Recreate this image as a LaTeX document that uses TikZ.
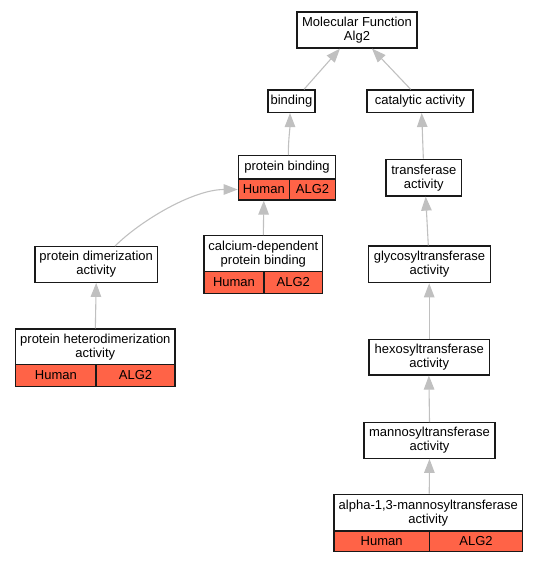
\documentclass[tikz,border=0pt]{standalone}
\usepackage{fontspec}
\setmainfont{Liberation Sans}
\usetikzlibrary{arrows.meta}
\definecolor{hit}{RGB}{255,99,71}
\definecolor{edgegray}{RGB}{192,192,192}
\begin{document}
\begin{tikzpicture}[x=1pt,y=-1pt,
  box/.style={draw=black!90, line width=1.2pt, fill=white, inner sep=0pt, align=center,
    font=\fontsize{13}{14}\selectfont},
  hitbox/.style={box, fill=hit},
  link/.style={draw=edgegray, line width=1.1pt, -{Triangle[length=14pt,width=10.5pt,fill=edgegray]}}]
\useasboundingbox (0,0) rectangle (537,563);
% nodes
\node[box, minimum width=120pt, minimum height=36pt] (mf) at (357,30) {Molecular Function\\Alg2};
\node[box, minimum width=47pt, minimum height=22.5pt] (binding) at (291.5,101.2) {binding};
\node[box, minimum width=106pt, minimum height=22.5pt] (cat) at (420,101.2) {catalytic activity};
% protein binding
\node[box, minimum width=97.4pt, minimum height=23.3pt] (pbt) at (287,167.35) {protein binding};
\node[hitbox, minimum width=51pt, minimum height=21pt] (pbh) at (263.8,189.5) {Human};
\node[hitbox, minimum width=46.4pt, minimum height=21pt] (pba) at (312.5,189.5) {ALG2};
% calcium-dependent
\node[box, minimum width=118.7pt, minimum height=36pt] (cat2) at (263.35,253.7) {calcium-dependent\\protein binding};
\node[hitbox, minimum width=60pt, minimum height=21.6pt] (cah) at (234,282.5) {Human};
\node[hitbox, minimum width=58.7pt, minimum height=21.6pt] (caa) at (293.35,282.5) {ALG2};
% dimerization
\node[box, minimum width=122.3pt, minimum height=35.6pt] (dim) at (96.2,264.5) {protein dimerization\\activity};
% heterodimerization
\node[box, minimum width=159.3pt, minimum height=35.3pt] (het) at (95.35,346.65) {protein heterodimerization\\activity};
\node[hitbox, minimum width=80.3pt, minimum height=22.4pt] (heth) at (55.85,375.5) {Human};
\node[hitbox, minimum width=79pt, minimum height=22.4pt] (heta) at (135.5,375.5) {ALG2};
% right column
\node[box, minimum width=75.7pt, minimum height=36.7pt] (tr) at (423.85,177.65) {transferase\\activity};
\node[box, minimum width=122.4pt, minimum height=36.7pt] (gly) at (429.5,264.35) {glycosyltransferase\\activity};
\node[box, minimum width=120.3pt, minimum height=35.7pt] (hex) at (429.2,357.15) {hexosyltransferase\\activity};
\node[box, minimum width=131pt, minimum height=35.6pt] (man) at (429.5,440.5) {mannosyltransferase\\activity};
\node[box, minimum width=188.7pt, minimum height=36.7pt] (alp) at (428.35,512.65) {alpha-1,3-mannosyltransferase\\activity};
\node[hitbox, minimum width=95.3pt, minimum height=20.7pt] (alph) at (381.65,541.35) {Human};
\node[hitbox, minimum width=93.4pt, minimum height=20.7pt] (alpa) at (476,541.35) {ALG2};
% edges
\draw[link] ([xshift=12.5pt]binding.north) -- ([xshift=-17pt]mf.south);
\draw[link] ([xshift=-9.3pt]cat.north) -- ([xshift=15pt]mf.south);
\draw[link] ([xshift=1.3pt]pbt.north) .. controls +(0,-15) and +(0,15) .. ([xshift=-1.5pt]binding.south);
\draw[link] (cat2.north) -- (pbh.south);
\draw[link] ([xshift=18.8pt]dim.north) .. controls +(25,-25) and +(-45,0) .. (pbh.west);
\draw[link] (het.north) -- (dim.south);
\draw[link] ([xshift=-0.5pt]tr.north) -- ([xshift=1.7pt]cat.south);
\draw[link] ([xshift=-1.2pt]gly.north) -- ([xshift=1.85pt]tr.south);
\draw[link] (hex.north) -- ([xshift=-0.3pt]gly.south);
\draw[link] (man.north) -- ([xshift=-0.3pt]hex.south);
\draw[link] ([xshift=0.9pt]alp.north) -- (man.south);
\end{tikzpicture}
\end{document}
